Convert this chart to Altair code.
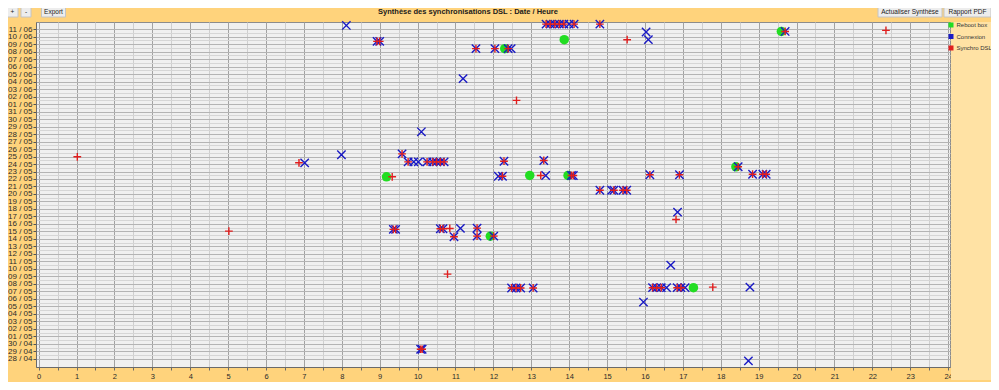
import altair as alt
import pandas as pd

# ---------------- data ----------------
date_labels = [
    "28 / 04", "29 / 04", "30 / 04",
    "01 / 05", "02 / 05", "03 / 05", "04 / 05", "05 / 05", "06 / 05", "07 / 05",
    "08 / 05", "09 / 05", "10 / 05", "11 / 05", "12 / 05", "13 / 05", "14 / 05",
    "15 / 05", "16 / 05", "17 / 05", "18 / 05", "19 / 05", "20 / 05", "21 / 05",
    "22 / 05", "23 / 05", "24 / 05", "25 / 05", "26 / 05", "27 / 05", "28 / 05",
    "29 / 05", "30 / 05", "31 / 05",
    "01 / 06", "02 / 06", "03 / 06", "04 / 06", "05 / 06", "06 / 06", "07 / 06",
    "08 / 06", "09 / 06", "10 / 06", "11 / 06",
]

series = ["Reboot box", "Connexion", "Synchro DSL"]
series_colors = ["#22DD22", "#1A1AC4", "#E01E1E"]

# hour of day / day position (index in date_labels)
reboot_hour = [19.6, 13.87, 12.3, 18.4, 9.18, 12.96, 13.97, 11.92, 17.28]
reboot_day = [43.7, 42.6, 41.4, 25.63, 24.29, 24.47, 24.47, 16.37, 9.49]

connexion_hour = [
    8.12, 13.39, 13.5, 13.62, 13.74, 13.86, 14.0, 14.13, 14.81,
    16.03, 19.7,
    8.93, 9.0, 16.09,
    11.54, 12.04, 12.39, 12.47,
    11.2,
    10.1,
    7.99, 9.59,
    7.02, 9.75, 9.9, 10.02, 10.25, 10.4, 10.5, 10.6, 10.7, 12.28, 13.33,
    18.46,
    12.13, 12.24, 13.38, 14.06, 14.11, 16.13, 16.91, 18.84, 19.11, 19.2,
    14.81, 15.12, 15.18, 15.42, 15.52,
    16.86,
    9.36, 9.42, 10.6, 10.67, 11.13, 11.57,
    10.96, 11.57, 12.01,
    16.68,
    12.48, 12.6, 12.72, 13.05, 16.2, 16.31, 16.43, 16.57, 16.85, 16.95, 17.06, 18.77,
    15.96,
    10.08, 10.12,
    18.73,
]
connexion_day = [
    44.5, 44.67, 44.67, 44.67, 44.67, 44.67, 44.67, 44.67, 44.67,
    43.62, 43.7,
    42.37, 42.37, 42.6,
    41.4, 41.4, 41.4, 41.4,
    37.4,
    30.3,
    27.23, 27.36,
    26.16, 26.29, 26.29, 26.29, 26.29, 26.29, 26.29, 26.29, 26.29, 26.37, 26.47,
    25.63,
    24.37, 24.37, 24.47, 24.47, 24.47, 24.56, 24.56, 24.64, 24.64, 24.64,
    22.5, 22.5, 22.5, 22.5, 22.5,
    19.57,
    17.27, 17.27, 17.36, 17.36, 17.4, 17.44,
    16.29, 16.37, 16.37,
    12.5,
    9.45, 9.45, 9.45, 9.45, 9.49, 9.49, 9.49, 9.49, 9.49, 9.49, 9.49, 9.57,
    7.57,
    1.27, 1.27,
    -0.29,
]

synchro_hour = [
    13.39, 13.5, 13.62, 13.74, 13.86, 14.13, 14.81,
    19.7, 22.36,
    8.93, 9.0, 15.53,
    11.54, 12.04, 12.39,
    12.61,
    1.02, 9.59,
    6.87, 9.75, 10.25, 10.4, 10.5, 10.6, 10.7, 12.28, 13.33,
    18.46,
    9.33, 12.24, 13.25, 14.06, 14.11, 16.13, 16.91, 18.84, 19.11, 19.2,
    14.81, 15.18, 15.42, 15.52,
    16.82,
    5.02, 9.36, 9.42, 10.6, 10.67, 10.85, 11.57,
    10.96, 11.57, 12.01,
    10.79,
    12.48, 12.6, 12.72, 13.05, 16.2, 16.31, 16.43, 16.85, 16.95, 17.79,
    10.08, 10.12,
]
synchro_day = [
    44.67, 44.67, 44.67, 44.67, 44.67, 44.67, 44.67,
    43.7, 43.84,
    42.37, 42.37, 42.6,
    41.4, 41.4, 41.4,
    34.5,
    26.96, 27.36,
    26.16, 26.29, 26.29, 26.29, 26.29, 26.29, 26.29, 26.37, 26.47,
    25.63,
    24.29, 24.37, 24.47, 24.47, 24.47, 24.56, 24.56, 24.64, 24.64, 24.64,
    22.5, 22.5, 22.5, 22.5,
    18.6,
    17.04, 17.27, 17.27, 17.36, 17.36, 17.4, 17.44,
    16.29, 16.37, 16.37,
    11.3,
    9.45, 9.45, 9.45, 9.45, 9.49, 9.49, 9.49, 9.49, 9.49, 9.57,
    1.27, 1.27,
]

hour_ticks = [h / 2 for h in range(49)]
day_ticks = [d / 2 for d in range(2 * len(date_labels) - 1)]

title_text = "Synthèse des synchronisations DSL : Date / Heure"

# ---------------- table ----------------
df = pd.concat([
    pd.DataFrame({"heure": reboot_hour, "jour": reboot_day, "serie": series[0]}),
    pd.DataFrame({"heure": connexion_hour, "jour": connexion_day, "serie": series[1]}),
    pd.DataFrame({"heure": synchro_hour, "jour": synchro_day, "serie": series[2]}),
], ignore_index=True)

FONT = "Liberation Sans"
NARROW = "Liberation Sans Narrow, Liberation Sans"
labels_js = "[" + ",".join("'%s'" % s for s in date_labels) + "]"

x_enc = alt.X(
    "heure:Q",
    scale=alt.Scale(domain=[-0.07, 24.05], nice=False, zero=False),
    axis=alt.Axis(
        values=hour_ticks, title=None,
        labelExpr="datum.value % 1 === 0 ? format(datum.value, 'd') : ''",
        gridColor={"expr": "datum.value % 1 === 0 ? '#a2a2a2' : '#cfcfcf'"},
        tickSize=3, labelPadding=2, labelFontSize=7.5, labelFont=FONT,
        labelColor="#2b2b2b", domainColor="#6a6a6a", tickColor="#6a6a6a",
        labelFlush=False,
    ),
)
y_enc = alt.Y(
    "jour:Q",
    scale=alt.Scale(domain=[-1.1, 44.96], nice=False, zero=False),
    axis=alt.Axis(
        values=day_ticks, title=None,
        labelExpr="datum.value % 1 === 0 ? " + labels_js + "[datum.value] : ''",
        gridColor={"expr": "datum.value % 1 === 0 ? '#b4b4b4' : '#d6d6d6'"},
        tickColor={"expr": "datum.value % 1 === 0 ? '#555555' : 'transparent'"},
        tickSize=3, labelPadding=1, labelFontSize=8, labelFont=FONT,
        labelColor="#2b2b2b", domainColor="#6a6a6a", labelFlush=False,
        labelOverlap=False,
    ),
)
color_scale = alt.Scale(domain=series, range=series_colors)
color_enc = alt.Color(
    "serie:N",
    scale=color_scale,
    legend=alt.Legend(
        title=None, orient="none", legendX=912, legendY=0,
        symbolType="square", symbolSize=25, labelFontSize=6, labelFont=NARROW,
        labelColor="#333333", rowPadding=5.5, padding=0, labelOffset=2.5,
        symbolStrokeWidth=0, labelLimit=60,
    ),
)
stroke_enc = alt.Stroke("serie:N", scale=color_scale, legend=None)

base = alt.Chart(df).encode(x=x_enc, y=y_enc, color=color_enc)

X_PATH = "M-1,-1L1,1M-1,1L1,-1"
PLUS_PATH = "M-1,0L1,0M0,-1L0,1"

reboot = base.transform_filter(alt.datum.serie == series[0]).mark_point(
    shape="circle", filled=True, size=90, opacity=1)
conn = base.transform_filter(alt.datum.serie == series[1]).mark_point(
    shape=X_PATH, filled=True, size=70, strokeWidth=1.4, opacity=1
).encode(stroke=stroke_enc)
sync = base.transform_filter(alt.datum.serie == series[2]).mark_point(
    shape=PLUS_PATH, filled=True, size=60, strokeWidth=1.4, opacity=1
).encode(stroke=stroke_enc)

# ---------------- window decorations (title, buttons, legend panel) ----------------
one = pd.DataFrame({"k": [0]})

panel = alt.Chart(one).mark_rect(color="#FFE2A4").encode(
    x=alt.value(915), x2=alt.value(960), y=alt.value(0), y2=alt.value(358))

title = alt.Chart(one).mark_text(
    fontSize=7.5, font=FONT, fontWeight="bold", color="#1a1a1a"
).encode(x=alt.value(432), y=alt.value(-10.5), text=alt.value(title_text))


def button(label, x1, x2):
    r = alt.Chart(one).mark_rect(fill="#EDEDED", stroke="#C4C4C4", strokeWidth=1).encode(
        x=alt.value(x1), x2=alt.value(x2), y=alt.value(-16), y2=alt.value(-5))
    t = alt.Chart(one).mark_text(fontSize=6.5, font=FONT, color="#222222").encode(
        x=alt.value((x1 + x2) / 2), y=alt.value(-10.5), text=alt.value(label))
    return [r, t]


buttons = []
for lab, a, b in [("+", -29, -18), ("-", -15, -5), ("Export", 5.5, 29.5),
                  ("Actualiser Synthèse", 842, 906), ("Rapport PDF", 908, 955)]:
    buttons += button(lab, a, b)

chart = alt.layer(panel, title, *buttons, reboot, conn, sync).properties(
    width=914, height=345,
    autosize=alt.AutoSizeParams(type="none"),
    padding={"left": 28, "top": 14, "right": 41, "bottom": 15},
    background="#FFD37C",
).configure_view(fill="#F0F0F0", stroke="#8c8c8c")

chart.save("out.html", embed_options={"renderer": "svg", "actions": False})
